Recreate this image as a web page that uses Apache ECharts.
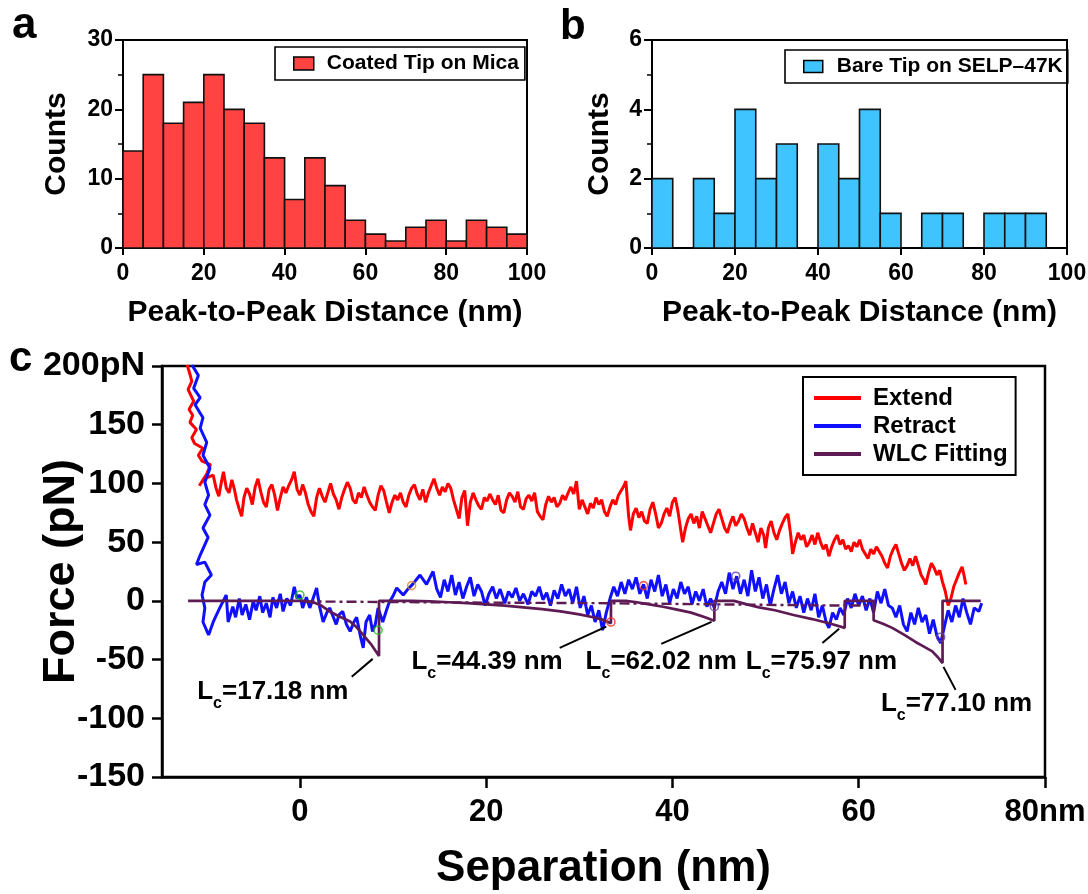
<!DOCTYPE html>
<html>
<head>
<meta charset="utf-8">
<script src="https://cdn.jsdelivr.net/npm/echarts@6/dist/echarts.min.js"></script>
<style>
  html, body { margin: 0; padding: 0; background: #ffffff; }
  #chart { width: 1088px; height: 894px; }
</style>
</head>
<body>
<div id="chart"></div>
<script>
// ---------- histogram data (bin edges in nm, counts per bin) ----------
const binEdges = [0, 5, 10, 15, 20, 25, 30, 35, 40, 45, 50, 55, 60, 65, 70, 75, 80, 85, 90, 95, 100];
const coatedCounts = [14, 25, 18, 21, 25, 20, 18, 13, 7, 13, 9, 4, 2, 1, 3, 4, 1, 4, 3, 2];
const bareCounts   = [2, 0, 2, 1, 4, 2, 3, 0, 3, 2, 4, 1, 0, 1, 1, 0, 1, 1, 1, 0];

// ---------- force curve data: [separation nm, force pN] ----------
const extendCurve = [
  [-12.1,201],[-11.8,193],[-11.6,187],[-12.0,180],[-11.7,175],[-11.4,170],[-11.9,163],[-11.5,158],[-11.8,152],
  [-11.1,146],[-11.6,139],[-11.3,134],[-10.4,130],[-10.9,124],[-10.5,119],[-9.6,116],[-10.0,108],[-10.8,98],
  [-10.3,104],[-9.3,107],[-9.0,96],[-8.7,89],[-8.4,102],[-8.2,110],[-7.9,96],[-7.6,92],[-7.3,103],[-7.0,94],
  [-6.8,86],[-6.5,78],[-6.25,72],[-6.0,88],[-5.7,96],[-5.4,91],[-5.1,82],[-4.8,97],[-4.5,104],[-4.2,93],[-3.9,84],
  [-3.6,80],[-3.3,95],[-3.0,99],[-2.7,90],[-2.4,77],[-2.1,88],[-1.8,97],[-1.5,92],[-1.2,98],[-0.9,103],[-0.6,110],
  [-0.3,95],[0,90],[0.3,99],[0.6,92],[0.9,82],[1.2,76],[1.5,72],[1.8,88],[2.1,96],[2.4,89],[2.7,84],[3.0,92],
  [3.3,100],[3.6,91],[3.9,86],[4.2,78],[4.5,88],[4.8,95],[5.1,101],[5.4,96],[5.7,86],[6.0,83],[6.3,92],[6.6,88],
  [6.9,97],[7.2,90],[7.5,84],[7.8,80],[8.1,77],[8.4,90],[8.7,98],[9.0,94],[9.3,84],[9.6,75],[9.9,84],[10.2,90],
  [10.5,86],[10.8,92],[11.1,84],[11.4,80],[11.7,90],[12.0,96],[12.3,99],[12.6,91],[12.9,86],[13.2,95],[13.5,84],
  [13.8,92],[14.1,98],[14.4,104],[14.7,96],[15.0,90],[15.3,97],[15.6,93],[15.9,100],[16.2,96],[16.5,86],[16.8,78],
  [17.1,70],[17.4,88],[17.7,94],[18.0,64],[18.3,84],[18.6,92],[18.9,86],[19.2,81],[19.5,78],[19.8,88],[20.1,85],
  [20.4,91],[20.7,86],[21.0,82],[21.3,90],[21.6,77],[21.9,75],[22.2,86],[22.5,92],[22.8,89],[23.1,84],[23.4,93],
  [23.7,80],[24.0,78],[24.3,87],[24.6,90],[24.9,85],[25.2,92],[25.5,76],[25.8,72],[26.1,69],[26.4,82],[26.7,89],
  [27.0,84],[27.3,88],[27.6,80],[27.9,83],[28.2,90],[28.5,86],[28.8,92],[29.1,97],[29.4,91],[29.7,102],[30.0,78],
  [30.3,86],[30.6,80],[30.9,74],[31.2,83],[31.5,79],[31.8,88],[32.1,82],[32.4,86],[32.7,76],[33.0,72],[33.3,80],
  [33.6,86],[33.9,82],[34.2,90],[34.5,94],[34.8,98],[35.0,102],[35.3,72],[35.5,60],[35.8,74],[36.1,79],[36.4,71],
  [36.7,76],[37.0,68],[37.3,66],[37.6,78],[37.9,84],[38.2,74],[38.5,62],[38.8,66],[39.1,74],[39.4,79],[39.7,72],
  [40.0,84],[40.3,88],[40.6,76],[40.9,60],[41.1,50],[41.4,62],[41.7,70],[42.0,74],[42.3,66],[42.6,72],[42.9,62],
  [43.2,76],[43.5,70],[43.8,64],[44.1,58],[44.4,66],[44.7,74],[45.0,78],[45.3,70],[45.6,62],[45.9,58],[46.2,66],
  [46.5,72],[46.8,64],[47.1,68],[47.4,74],[47.7,70],[48.0,62],[48.3,56],[48.6,66],[48.9,58],[49.2,50],[49.5,62],
  [49.8,56],[50.0,45],[50.3,62],[50.6,68],[50.9,58],[51.2,52],[51.5,60],[51.8,66],[52.1,71],[52.4,74],[52.7,56],
  [52.9,40],[53.2,50],[53.5,58],[53.8,52],[54.1,56],[54.4,46],[54.7,50],[55.0,56],[55.3,48],[55.6,58],[55.9,50],
  [56.2,44],[56.5,48],[56.8,38],[57.1,46],[57.4,52],[57.7,56],[58.0,48],[58.3,52],[58.6,44],[58.9,47],[59.2,42],
  [59.5,50],[59.8,46],[60.1,52],[60.4,44],[60.7,40],[61.0,36],[61.3,44],[61.6,40],[61.9,46],[62.2,42],[62.5,38],
  [62.8,32],[63.1,28],[63.4,38],[63.7,44],[64.0,48],[64.3,40],[64.6,32],[64.9,26],[65.2,30],[65.5,36],[65.8,30],
  [66.1,38],[66.4,30],[66.7,22],[67.0,18],[67.2,14],[67.5,24],[67.8,32],[68.1,28],[68.4,22],[68.7,26],[69.0,16],
  [69.3,8],[69.6,-4],[69.9,2],[70.2,12],[70.5,18],[70.8,24],[71.1,29],[71.3,22],[71.5,14]
];

const retractCurve = [
  [-11.6,201],[-10.9,192],[-11.4,181],[-10.7,173],[-11.25,167],[-10.4,156],[-10.7,147],[-10.0,135],[-10.4,124],
  [-9.65,113],[-10.2,101],[-9.8,90],[-10.2,82],[-9.65,73],[-10.4,62],[-9.85,54],[-10.7,39],[-11.1,31],[-10.2,33],
  [-9.5,22],[-10.2,16],[-10.5,5],[-10.2,-6],[-10.4,-18],[-9.8,-29],[-9.3,-18],[-8.6,-6],[-7.9,5],[-7.7,-18],
  [-7.2,-5],[-6.9,-14],[-6.5,2],[-6.2,-12],[-5.8,-3],[-5.4,-16],[-5.0,0],[-4.7,-8],[-4.3,4],[-4.0,-10],[-3.6,-2],
  [-3.2,-14],[-2.9,3],[-2.5,-6],[-2.1,6],[-1.8,-9],[-1.4,2],[-1.0,-4],[-0.6,12],[-0.3,2],[0,5],[0.3,-6],[0.7,3],
  [1.07,-6],[1.8,11],[2.1,-4],[2.5,-18],[2.9,-10],[3.2,-6],[3.6,-14],[3.9,-20],[4.2,-12],[4.6,-9],[5.0,-20],
  [5.4,-26],[5.8,-18],[6.1,-14],[6.5,-30],[6.8,-40],[7.1,-18],[7.5,-12],[7.8,-26],[8.1,-20],[8.4,-6],[8.9,-18],
  [9.3,-8],[9.6,-1],[10.0,4],[10.4,11],[11.1,5],[11.6,10],[12.1,14],[12.9,22],[13.6,14],[14.3,25],[14.7,10],
  [15.1,3],[15.5,18],[15.9,8],[16.3,22],[16.7,5],[17.1,16],[17.5,2],[17.9,12],[18.3,20],[18.7,4],[19.1,14],
  [19.5,8],[19.9,-4],[20.3,6],[20.7,12],[21.1,2],[21.5,10],[22.0,-2],[22.4,8],[22.8,3],[23.2,11],[23.6,0],
  [24.0,6],[24.5,-3],[24.9,8],[25.3,4],[25.7,12],[26.1,1],[26.5,7],[26.9,-4],[27.3,9],[27.7,2],[28.1,14],
  [28.5,4],[28.9,10],[29.3,-2],[29.7,12],[30.1,-6],[30.5,4],[30.9,-12],[31.3,-4],[31.7,-18],[32.1,-8],
  [32.5,-25],[32.9,-10],[33.3,2],[33.7,12],[34.1,4],[34.5,16],[34.9,6],[35.3,18],[35.7,10],[36.1,20],[36.5,6],
  [36.9,14],[37.3,2],[37.7,18],[38.1,8],[38.5,22],[38.9,4],[39.3,14],[39.7,-2],[40.1,10],[40.5,2],[40.9,16],
  [41.3,6],[41.7,12],[42.1,-3],[42.5,8],[42.9,0],[43.3,10],[43.7,-5],[44.1,2],[44.5,-6],[44.9,8],[45.3,16],
  [45.7,6],[46.1,24],[46.5,10],[46.9,21],[47.3,6],[47.7,18],[48.1,4],[48.5,26],[48.9,8],[49.3,20],[49.7,2],
  [50.1,14],[50.5,-4],[50.9,10],[51.3,22],[51.7,6],[52.1,16],[52.5,-2],[52.9,8],[53.3,-6],[53.7,4],[54.1,-10],
  [54.5,2],[54.9,-8],[55.3,6],[55.7,-14],[56.1,-4],[56.5,-18],[56.8,-23],[57.2,-10],[57.6,-16],[58.0,-6],
  [58.4,-12],[58.8,2],[59.2,-6],[59.6,6],[60.0,-4],[60.4,4],[60.8,-8],[61.2,2],[61.6,-10],[62.0,8],[62.4,-2],
  [62.8,10],[63.2,-4],[63.6,-6],[64.0,-14],[64.4,-4],[64.8,-20],[65.2,-26],[65.6,-10],[66.0,-20],[66.4,-6],
  [66.8,-18],[67.2,-12],[67.6,-28],[68.0,-16],[68.4,-30],[68.8,-36],[69.2,-22],[69.6,-8],[70.0,-18],[70.4,-4],
  [70.8,-14],[71.2,2],[71.6,-10],[72.0,-20],[72.4,-6],[72.9,-9],[73.2,-2]
];

// worm-like-chain fit segments, each ending with the rupture back to zero force
const wlcFit = [
  [-12.0,0],[0.5,0],[1.5,-1.5],[2.3,-4],[3.2,-9],[4.3,-13.5],[5.4,-17.6],[6.1,-22.5],[6.8,-29],[7.7,-37.5],[8.5,-47],[8.5,0],
  [12.0,0],[14,-0.5],[16,-1.2],[18,-2],[20,-3],[22,-4],[24,-5.5],[26,-7],[28,-9],[30,-11.5],[31.5,-14],[32.5,-16],[33.4,-19],[33.4,0],
  [35,0],[36,-1],[37.5,-3],[39,-5],[40.5,-7.5],[42,-10],[43.5,-14],[44.5,-17],[44.5,0],[46.6,0],
  [46.6,-1],[48,-3],[49.3,-5.5],[51,-8],[53,-12],[55,-15.5],[57,-19.5],[58.5,-23],[58.5,0],[61.6,0],[61.6,-16.5],
  [62.6,-19.5],[63.6,-23],[64.9,-29],[66.1,-35],[67.0,-39],[67.9,-43],[68.5,-48],[69.0,-53],[69.0,0],[73.1,0]
];
const wlcBaseline = [[0.5,-0.5],[10,-1],[20,-1.5],[33,-2],[45,-3],[58,-4],[61,-4]];

// picked rupture / attachment points: [x, y, colour]
const fitMarkers = [
  [0, 5, '#22bb22'], [8.4, -25, '#22bb22'], [12.0, 13, '#d08a30'],
  [33.4, -18, '#ee3322'], [36.9, 13, '#ee3322'], [44.5, -5, '#6040a0'],
  [46.8, 21, '#6040a0'], [68.8, -31, '#6040a0']
];

// fitted contour lengths (nm), their label anchors and leader lines
const contourLengths = ['17.18', '44.39', '62.02', '75.97', '77.10'];
const lcAnchors = [[-2.9, -80.5], [20.1, -55], [38.8, -55], [56.0, -55], [70.5, -90.6]];
const lcLeaders = [
  [[5.57, -64.7], [7.82, -49.4]],
  [[27.9, -40.0], [32.9, -22.0]],
  [[38.8, -36.6], [44.2, -17.9]],
  [[56.1, -35.8], [57.9, -23.8]],
  [[70.4, -75.8], [69.1, -56.2]]
];
const sepTicks = [0, 20, 40, 60, 80];

// ---------- styling ----------
const FONT = '"Liberation Sans", Arial, Helvetica, sans-serif';
const BLACK = '#000000';
const RED_BAR = '#ff4343';
const CYAN_BAR = '#40c4ff';
const EXT = '#ff0000';
const RET = '#1010ff';
const WLC = '#5e1a52';

function boldText(size, extra) {
  return Object.assign({ fontFamily: FONT, fontWeight: 'bold', fontSize: size, color: BLACK }, extra || {});
}

function histData(counts) {
  return counts.map((c, i) => [binEdges[i], binEdges[i + 1], c]).filter(d => d[2] > 0);
}

function histRender(color) {
  return function (params, api) {
    const top = api.coord([api.value(0), api.value(2)]);
    const bot = api.coord([api.value(1), 0]);
    return {
      type: 'rect',
      shape: { x: top[0], y: top[1], width: bot[0] - top[0], height: bot[1] - top[1] },
      style: { fill: color, stroke: '#111111', lineWidth: 1.6 }
    };
  };
}

function histXAxis(idx) {
  return {
    type: 'value', gridIndex: idx, min: 0, max: 100, interval: 20,
    axisLine: { show: true, onZero: false, lineStyle: { color: BLACK, width: 2 } },
    axisTick: { show: true, length: 7, lineStyle: { color: BLACK, width: 2 } },
    axisLabel: boldText(23, { margin: 14 }),
    splitLine: { show: false },
    name: 'Peak-to-Peak Distance (nm)', nameLocation: 'middle', nameGap: 50, nameMoveOverlap: false,
    nameTextStyle: boldText(30)
  };
}

function histYAxis(idx, max, interval, gap) {
  return {
    type: 'value', gridIndex: idx, min: 0, max: max, interval: interval,
    axisLine: { show: true, onZero: false, lineStyle: { color: BLACK, width: 2 } },
    axisTick: { show: true, length: 8, lineStyle: { color: BLACK, width: 2 } },
    minorTick: { show: true, splitNumber: 2, length: 5, lineStyle: { color: BLACK, width: 1.5 } },
    axisLabel: boldText(23, { margin: 10 }),
    splitLine: { show: false },
    minorSplitLine: { show: false },
    name: 'Counts', nameLocation: 'middle', nameRotate: 90, nameGap: gap, nameMoveOverlap: false,
    nameTextStyle: boldText(30)
  };
}

// "L" with subscript "c" followed by the contour length
const lcRich = {
  m: { fontFamily: FONT, fontWeight: 'bold', fontSize: 26, fill: BLACK, color: BLACK, lineHeight: 26, verticalAlign: 'top' },
  s: { fontFamily: FONT, fontWeight: 'bold', fontSize: 16, fill: BLACK, color: BLACK, lineHeight: 33, verticalAlign: 'bottom' }
};

const series = [
  {
    name: 'Coated Tip on Mica', type: 'custom', xAxisIndex: 0, yAxisIndex: 0,
    renderItem: histRender(RED_BAR), encode: { x: [0, 1], y: 2 },
    itemStyle: { color: RED_BAR }, data: histData(coatedCounts), clip: false
  },
  {
    name: 'Bare Tip on SELP\u201347K', type: 'custom', xAxisIndex: 1, yAxisIndex: 1,
    renderItem: histRender(CYAN_BAR), encode: { x: [0, 1], y: 2 },
    itemStyle: { color: CYAN_BAR }, data: histData(bareCounts), clip: false
  },
  {
    name: 'Extend', type: 'line', xAxisIndex: 2, yAxisIndex: 2, data: extendCurve,
    showSymbol: false, symbol: 'none', color: EXT, lineStyle: { color: EXT, width: 3 }, z: 3, clip: true
  },
  {
    name: 'Retract', type: 'line', xAxisIndex: 2, yAxisIndex: 2, data: retractCurve,
    showSymbol: false, symbol: 'none', color: RET, lineStyle: { color: RET, width: 3 }, z: 4, clip: true
  },
  {
    name: 'WLC Fitting', type: 'line', xAxisIndex: 2, yAxisIndex: 2, data: wlcBaseline,
    showSymbol: false, symbol: 'none', color: WLC,
    lineStyle: { color: WLC, width: 2.4, type: [10, 4, 3, 4] }, z: 5
  },
  {
    name: 'WLC Fitting', type: 'line', xAxisIndex: 2, yAxisIndex: 2, data: wlcFit,
    showSymbol: false, symbol: 'none', color: WLC, lineStyle: { color: WLC, width: 2.7 }, z: 6
  },
  {
    name: 'markers', type: 'scatter', xAxisIndex: 2, yAxisIndex: 2, symbol: 'circle', symbolSize: 8, z: 7,
    data: fitMarkers.map(m => ({ value: [m[0], m[1]], itemStyle: { color: 'rgba(0,0,0,0)', borderColor: m[2], borderWidth: 1.6 } }))
  },
  {
    name: 'contour labels', type: 'custom', xAxisIndex: 2, yAxisIndex: 2, z: 9, silent: true,
    encode: { x: 0, y: 1 },
    data: lcAnchors.map((a, i) => [a[0], a[1], i]),
    renderItem: function (params, api) {
      const pt = api.coord([api.value(0), api.value(1)]);
      const txt = contourLengths[api.value(2)];
      return {
        type: 'text', x: pt[0], y: pt[1],
        style: {
          text: '{m|L}{s|c}{m|=' + txt + ' nm}', rich: lcRich,
          align: 'center', verticalAlign: 'middle', fill: BLACK
        }
      };
    }
  }
];

lcLeaders.forEach((seg, i) => {
  series.push({
    name: 'leader' + i, type: 'line', xAxisIndex: 2, yAxisIndex: 2, data: seg,
    showSymbol: false, symbol: 'none', lineStyle: { color: BLACK, width: 2 }, z: 8
  });
});

const gridBase = { show: true, borderColor: BLACK, containLabel: false, outerBoundsMode: 'none' };

const option = {
  animation: false,
  backgroundColor: '#ffffff',
  grid: [
    Object.assign({ left: 123, top: 40, width: 404, height: 208, borderWidth: 2 }, gridBase),
    Object.assign({ left: 652, top: 40, width: 415, height: 208, borderWidth: 2 }, gridBase),
    Object.assign({ left: 162, top: 366, width: 883, height: 411, borderWidth: 2.5 }, gridBase)
  ],
  xAxis: [
    histXAxis(0),
    histXAxis(1),
    {
      type: 'value', gridIndex: 2, min: -14.8, max: 80,
      axisLine: { show: true, onZero: false, lineStyle: { color: BLACK, width: 2.5 } },
      axisTick: { show: true, length: 11, customValues: sepTicks, lineStyle: { color: BLACK, width: 2.5 } },
      axisLabel: boldText(31, { margin: 20, customValues: sepTicks, formatter: v => (v === 80 ? '80nm' : String(v)) }),
      splitLine: { show: false },
      name: 'Separation (nm)', nameLocation: 'middle', nameGap: 70, nameMoveOverlap: false,
      nameTextStyle: boldText(44)
    }
  ],
  yAxis: [
    histYAxis(0, 30, 10, 51),
    histYAxis(1, 6, 2, 37),
    {
      type: 'value', gridIndex: 2, min: -150, max: 200, interval: 50,
      axisLine: { show: true, onZero: false, lineStyle: { color: BLACK, width: 2.5 } },
      axisTick: { show: true, length: 10, lineStyle: { color: BLACK, width: 2.5 } },
      axisLabel: boldText(34, { margin: 17, formatter: v => (v === 200 ? '200pN' : String(v)) }),
      splitLine: { show: false },
      name: 'Force (pN)', nameLocation: 'middle', nameRotate: 90, nameGap: 78, nameMoveOverlap: false,
      nameTextStyle: boldText(45)
    }
  ],
  legend: [
    {
      left: 275, top: 47, orient: 'vertical', selectedMode: false,
      padding: [6, 6, 6, 18], borderColor: BLACK, borderWidth: 1.6,
      itemWidth: 20, itemHeight: 13,
      textStyle: boldText(21, { padding: [0, 0, 0, 8] }),
      data: [{ name: 'Coated Tip on Mica', icon: 'rect', itemStyle: { color: RED_BAR, borderColor: BLACK, borderWidth: 1.5 } }]
    },
    {
      left: 785, top: 50, orient: 'vertical', selectedMode: false,
      padding: [6, 5, 6, 18], borderColor: BLACK, borderWidth: 1.6,
      itemWidth: 19, itemHeight: 12,
      textStyle: boldText(21, { padding: [0, 0, 0, 9] }),
      data: [{ name: 'Bare Tip on SELP\u201347K', icon: 'rect', itemStyle: { color: CYAN_BAR, borderColor: BLACK, borderWidth: 1.5 } }]
    },
    {
      left: 803, top: 377, orient: 'vertical', selectedMode: false,
      padding: [9, 8, 9, 11], borderColor: BLACK, borderWidth: 2, itemGap: 4,
      itemWidth: 47, itemHeight: 4,
      textStyle: boldText(24, { padding: [0, 0, 0, 7] }),
      data: [
        { name: 'Extend', icon: 'rect', itemStyle: { color: EXT, borderWidth: 0 } },
        { name: 'Retract', icon: 'rect', itemStyle: { color: RET, borderWidth: 0 } },
        { name: 'WLC Fitting', icon: 'rect', itemStyle: { color: WLC, borderWidth: 0 } }
      ]
    }
  ],
  graphic: [
    { type: 'text', left: 12, top: 4, style: { text: 'a', font: 'bold 44px ' + FONT, fill: BLACK } },
    { type: 'text', left: 560, top: 6, style: { text: 'b', font: 'bold 42px ' + FONT, fill: BLACK } },
    { type: 'text', left: 9, top: 338, style: { text: 'c', font: 'bold 42px ' + FONT, fill: BLACK } }
  ],
  series: series
};

const chart = echarts.init(document.getElementById('chart'), null, { renderer: 'canvas' });
chart.setOption(option);
</script>
</body>
</html>
